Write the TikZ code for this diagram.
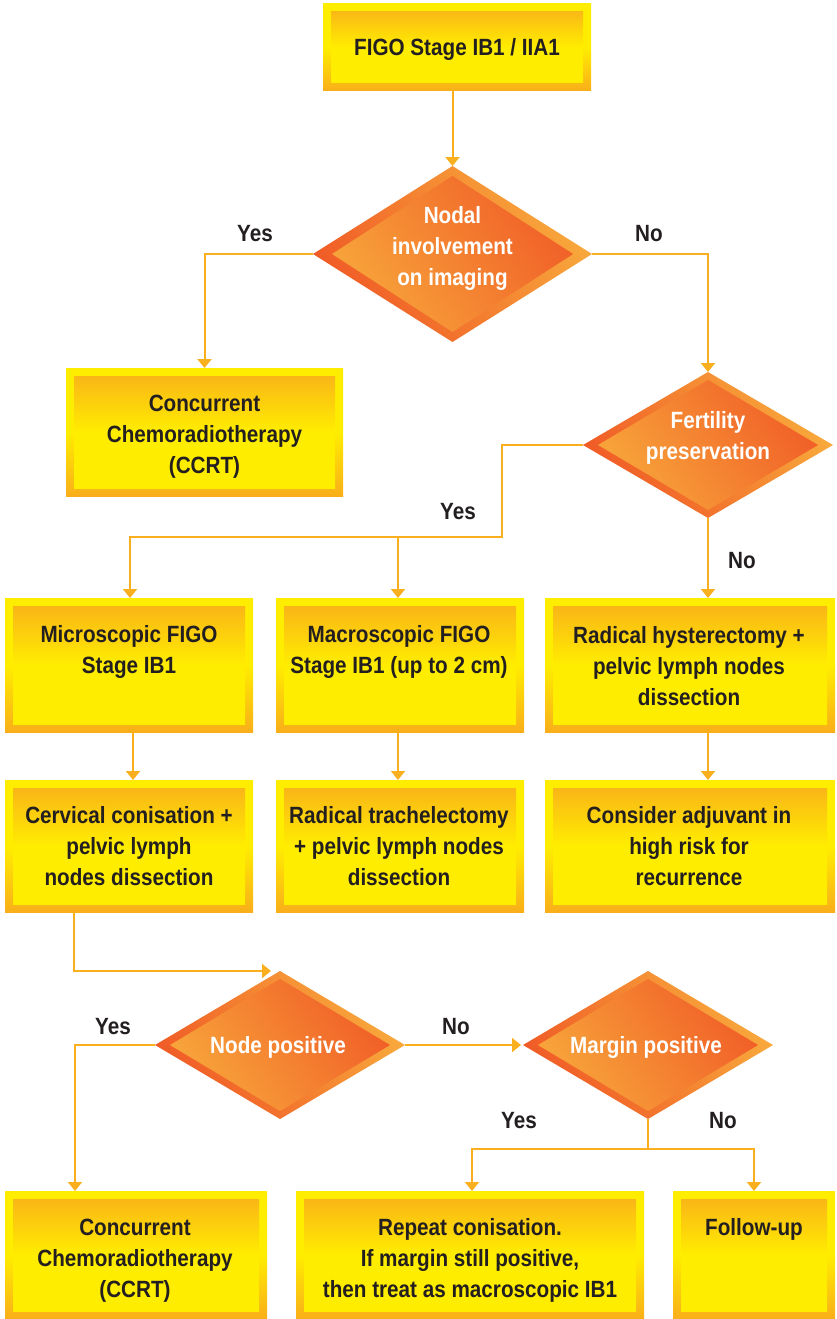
\documentclass[tikz,border=0pt]{standalone}
\usepackage{fontspec}
\setmainfont{Liberation Sans}[FakeStretch=0.88]
\usetikzlibrary{shapes.geometric,arrows.meta}
\definecolor{byel}{RGB}{255,237,0}
\definecolor{bora}{RGB}{249,174,26}
\definecolor{dlight}{RGB}{248,170,60}
\definecolor{ddark}{RGB}{240,90,38}
\definecolor{lnc}{RGB}{250,176,30}
\definecolor{txtc}{RGB}{35,31,32}
\newcommand\ms{\rule[-0.242em]{0pt}{1.2em}}
\begin{document}
\begin{tikzpicture}[x=1pt,y=-1pt,
 boxs/.style={rectangle, draw=none, inner sep=0pt, outer sep=0pt,
   top color=byel, bottom color=bora, middle color=byel,
   path picture={\shade[top color=bora, bottom color=byel, middle color=byel]
     ([shift={(8pt,-8pt)}]path picture bounding box.north west) rectangle
     ([shift={(-8pt,8pt)}]path picture bounding box.south east);}},
 dia/.style 2 args={diamond, draw=none, inner sep=0pt, outer sep=0pt,
   top color=dlight, bottom color=ddark, shading angle=-55,
   path picture={\shade[top color=ddark, bottom color=dlight, shading angle=-55]
     ([xshift=#1]path picture bounding box.west) --
     ([yshift=-#2]path picture bounding box.north) --
     ([xshift=-#1]path picture bounding box.east) --
     ([yshift=#2]path picture bounding box.south) -- cycle;}},
 txt/.style={inner sep=0pt, align=center, text=txtc, font=\fontsize{23.5}{31}\selectfont\bfseries},
 wtxt/.style={txt, text=white},
 lbl/.style={inner sep=0pt, text=txtc, font=\fontsize{23.5}{31}\selectfont\bfseries},
 arr/.style={draw=lnc, line width=2pt, -{Triangle[width=14pt,length=9pt]}},
 ln/.style={draw=lnc, line width=2pt},
]
\fill[white] (0,0) rectangle (836,1319);
\useasboundingbox (0,0) rectangle (836,1319);

% top box
\node[boxs, minimum width=268pt, minimum height=87pt] (b1) at (457,47.5) {};
\node[txt] (b1t) at (b1.center) {\ms FIGO Stage IB1 / IIA1\ms};

% diamond 1
\node[dia={19pt}{10pt}, minimum width=279pt, minimum height=176pt] (d1) at (452.5,254) {};
\node[wtxt] (d1t) at (452.5,246.5) {\ms Nodal\\involvement\\on imaging\ms};

% CCRT 1
\node[boxs, minimum width=277pt, minimum height=128pt] (c1) at (204.5,432) {};
\node[txt] (c1t) at (204.5,434.5) {\ms Concurrent\\Chemoradiotherapy\\(CCRT)\ms};

% diamond 2
\node[dia={15pt}{8pt}, minimum width=250pt, minimum height=146pt] (d2) at (708,445) {};
\node[wtxt] (d2t) at (708,435.5) {\ms Fertility\\preservation\ms};

% row 1
\node[boxs, minimum width=248pt, minimum height=134pt] (A) at (129,665) {};
\node[txt] (At) at (129,650) {\ms Microscopic FIGO\\Stage IB1\ms};
\node[boxs, minimum width=248pt, minimum height=134pt] (B) at (400,665) {};
\node[txt] (Bt) at (399,650) {\ms Macroscopic FIGO\\Stage IB1 (up to 2 cm)\ms};
\node[boxs, minimum width=290pt, minimum height=134pt] (C) at (690,665) {};
\node[txt] (Ct) at (689,666) {\ms Radical hysterectomy +\\pelvic lymph nodes\\dissection\ms};

% row 2
\node[boxs, minimum width=248pt, minimum height=132pt] (D) at (129,846) {};
\node[txt] (Dt) at (129,846.5) {\ms Cervical conisation +\\pelvic lymph\\nodes dissection\ms};
\node[boxs, minimum width=248pt, minimum height=132pt] (E) at (400,846) {};
\node[txt] (Et) at (399,846.5) {\ms Radical trachelectomy\\+ pelvic lymph nodes\\dissection\ms};
\node[boxs, minimum width=290pt, minimum height=132pt] (F) at (690,846) {};
\node[txt] (Ft) at (689,846.5) {\ms Consider adjuvant in\\high risk for\\recurrence\ms};

% diamonds 3 and 4
\node[dia={15pt}{8pt}, minimum width=250pt, minimum height=148pt] (d3) at (280,1045) {};
\node[wtxt] (d3t) at (278,1045) {\ms Node positive\ms};
\node[dia={15pt}{8pt}, minimum width=250pt, minimum height=148pt] (d4) at (648,1045) {};
\node[wtxt] (d4t) at (646,1045) {\ms Margin positive\ms};

% bottom row
\node[boxs, minimum width=262pt, minimum height=128pt] (G) at (136,1255) {};
\node[txt] (Gt) at (135,1258) {\ms Concurrent\\Chemoradiotherapy\\(CCRT)\ms};
\node[boxs, minimum width=348pt, minimum height=128pt] (H) at (470,1255) {};
\node[txt] (Ht) at (470,1258) {\ms Repeat conisation.\\If margin still positive,\\then treat as macroscopic IB1\ms};
\node[boxs, minimum width=162pt, minimum height=128pt] (I) at (754,1255) {};
\node[txt] (It) at (754,1227) {\ms Follow-up\ms};

% labels
\node[lbl] (l1) at (255,233) {\ms Yes\ms};
\node[lbl] (l2) at (649,233) {\ms No\ms};
\node[lbl] (l3) at (458,511) {\ms Yes\ms};
\node[lbl] (l4) at (742,560) {\ms No\ms};
\node[lbl] (l5) at (113,1026) {\ms Yes\ms};
\node[lbl] (l6) at (456,1026) {\ms No\ms};
\node[lbl] (l7) at (519,1120) {\ms Yes\ms};
\node[lbl] (l8) at (723,1120) {\ms No\ms};

% connectors
\coordinate (j1) at (502,537);
\coordinate (j2) at (648,1149);
\draw[arr] (d1.north |- b1.south) -- (d1.north);
\draw[arr] (d1.west) -| (c1.north);
\draw[arr] (d1.east) -| (d2.north);
\draw[arr] (d2.west) -| (j1) -| ([xshift=1pt]A.north);
\draw[arr] ([xshift=-2pt]j1 -| B.north) -- ([xshift=-2pt]B.north);
\draw[arr] (d2.south) -- (d2.south |- C.north);
\draw[arr] ([xshift=4pt]A.south) -- ([xshift=4pt]D.north);
\draw[arr] ([xshift=-2pt]B.south) -- ([xshift=-2pt]E.north);
\draw[arr] ([xshift=18pt]C.south) -- ([xshift=18pt]F.north);
\draw[arr] ([xshift=-55pt]D.south) |- ([xshift=-9pt]d3.north);
\draw[arr] (d3.west) -| ([xshift=-61pt]G.north);
\draw[arr] (d3.east) -- ([xshift=-2pt]d4.west);
\draw[ln] (d4.south) -- (j2);
\draw[arr] (j2) -| ([xshift=2pt]H.north);
\draw[arr] (j2) -| (I.north);
\end{tikzpicture}
\end{document}
